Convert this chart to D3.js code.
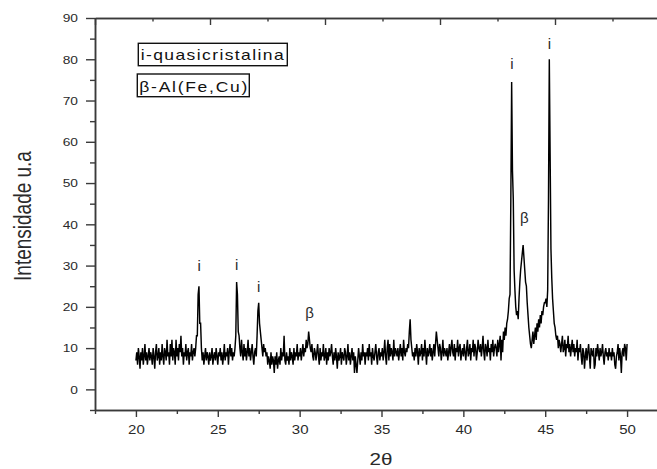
<!DOCTYPE html>
<html><head><meta charset="utf-8">
<script src="https://cdn.jsdelivr.net/npm/d3@7/dist/d3.min.js"></script>
<style>body{margin:0;background:#fff}svg{display:block;font-family:"Liberation Sans",Arial,sans-serif}</style>
</head><body><svg id="c" width="657" height="469"></svg>
<script>
// scan grid: 2θ from 20° in 0.05° steps
const scanStart = 20, scanStep = 0.05;
// intensity (u.a), 20 values per degree
const int20 = [
7,9,6,10,8,5,9,7,10,6,8,11,7,9,6,8,10,7,9,8,
6,10,8,5,9,11,7,8,10,6,9,7,11,8,6,10,9,7,12,8,
9,6,11,8,12,7,10,9,6,12,8,10,7,11,9,13,8,10,6,9,
8,11,7,9,10,6,9,8,11,7,9,10,8,10,13,13,23,25,16,16,
10,7,9,6,8,10,7,9,8,6,9,7,8,10,6,8,9,7,10,8];
const int25 = [
6,9,8,10,7,9,6,8,11,7,9,8,10,6,9,11,8,10,7,9,
8,10,13,26,23,14,13,10,8,12,9,7,11,8,10,7,9,12,8,10,
7,9,11,8,6,9,10,8,13,19,21,16,14,12,10,8,11,9,10,8,
9,6,8,7,5,9,6,8,7,4,8,6,9,5,7,8,6,10,7,9,
8,13,7,6,9,7,8,6,10,7,9,8,6,10,7,9,8,11,7,9];
const int30 = [
8,10,7,9,11,8,10,9,12,10,11,14,12,10,9,11,8,7,10,9,
7,9,11,8,6,10,7,9,8,11,7,8,10,6,9,7,10,8,9,11,
8,6,9,7,10,8,5,9,7,8,10,6,9,8,7,10,9,6,8,11,
7,9,6,8,10,7,9,4,8,6,4,7,10,8,6,9,7,11,8,9,
6,9,8,10,7,11,8,9,6,10,8,7,9,11,8,6,9,10,7,9];
const int35 = [
8,10,7,9,12,8,6,10,12,7,11,8,10,9,7,12,8,10,9,8,
10,7,9,11,8,10,7,12,9,8,10,9,11,10,14,17,12,10,8,9,
7,10,8,11,9,6,10,8,9,11,7,10,8,12,9,6,10,8,9,11,
8,10,7,9,11,8,11,14,12,10,8,11,10,7,9,12,8,10,9,8,
10,7,9,11,8,10,12,9,8,11,7,10,9,12,8,10,11,7,9,10];
const int40 = [
8,11,9,7,10,12,8,9,11,7,10,9,12,8,11,10,7,9,12,10,
9,11,8,10,13,9,7,11,10,8,12,9,10,7,11,9,12,8,10,11,
10,8,12,9,11,13,7,12,9,14,12,15,13,16,17,19,22,23,46,74.5,
53,46,29,24,20,18,19,17,22,26,29,31,33,35,32,29,26,25,21,18,
15,13,11,10,12,14,11,13,15,12,16,14,17,15,18,16,19,18,20,21];
const int45 = [
21,22,20,24,46,80,57,34,27,22,19,16,15,13,12,13,10,12,11,9,
11,13,9,10,12,8,11,10,13,9,11,8,10,12,9,11,8,10,9,12,
7,10,9,11,8,6,10,9,5,8,10,7,9,11,8,5,10,9,8,10,
5,6,10,8,11,9,7,10,8,9,11,8,6,9,10,8,9,7,10,8,
9,7,10,8,9,6,5,8,9,11,7,10,8,4,9,10,8,11,10,7];
const int50 = [11];

const xMajorTicks = [20,25,30,35,40,45,50];
const xMinorTicks = [17.5,22.5,27.5,32.5,37.5,42.5,47.5,52.5];
const yMajorTicks = [0,10,20,30,40,50,60,70,80,90];
const yMinorTicks = [-5,5,15,25,35,45,55,65,75,85];
const topMajorTicks = [0,1,2,3,4,5];
const topMinorTicks = [0.5,1.5,2.5,3.5,4.5];
const legendLabels = ["i-quasicristalina","β-Al(Fe,Cu)"];
const peakLabelText = ["i","i","i","β","i","β","i"];
const peakLabelX = [23.87,26.15,27.5,30.6,42.97,43.72,45.25];
const peakLabelY = [28.7,28.9,23.7,17.3,77.7,40.3,82.5];
const xTitle = "2θ", yTitle = "Intensidade u.a";

const svg = d3.select("#c");
const x = d3.scaleLinear().domain([17.5,52.5]).range([95,668]);
const y = d3.scaleLinear().domain([-5,90]).range([410,18]);
const xTop = d3.scaleLinear().domain([0,5]).range([95,670]);

const intensity = [].concat(int20,int25,int30,int35,int40,int45,int50);
const pts = intensity.map((v,i)=>[scanStart+i*scanStep, v]);

const axisColor = "#3a3a3a";
function styleAxis(g){
  g.selectAll(".domain").attr("stroke",axisColor).attr("stroke-width",1.5);
  g.selectAll(".tick line").attr("stroke",axisColor).attr("stroke-width",1.4);
}

// minor ticks
svg.append("g").attr("transform","translate(95,0)")
  .call(d3.axisLeft(y).tickValues(yMinorTicks).tickSize(5).tickSizeOuter(0).tickFormat(""))
  .call(styleAxis);
svg.append("g").attr("transform","translate(0,410)")
  .call(d3.axisBottom(x).tickValues(xMinorTicks).tickSize(4).tickSizeOuter(0).tickFormat(""))
  .call(styleAxis);
svg.append("g").attr("transform","translate(0,18)")
  .call(d3.axisTop(xTop).tickValues(topMinorTicks).tickSize(-3.5).tickSizeOuter(0).tickFormat(""))
  .call(styleAxis);

// major ticks
const gl = svg.append("g").attr("transform","translate(95,0)")
  .call(d3.axisLeft(y).tickValues(yMajorTicks).tickSize(9).tickSizeOuter(0))
  .call(styleAxis);
gl.selectAll(".tick text").attr("x",-13.6).attr("dy","0.34em")
  .attr("transform","scale(1.25,1)").attr("fill","#2a2a2a")
  .style("font-size","11px").style("font-family","'Liberation Sans',Arial,sans-serif");

const gb = svg.append("g").attr("transform","translate(0,410)")
  .call(d3.axisBottom(x).tickValues(xMajorTicks).tickSize(7).tickSizeOuter(0))
  .call(styleAxis);
gb.selectAll(".tick text").attr("y",24).attr("dy",0)
  .attr("transform","scale(1.25,1)").attr("fill","#2a2a2a")
  .style("font-size","12px").style("font-family","'Liberation Sans',Arial,sans-serif");

svg.append("g").attr("transform","translate(0,18)")
  .call(d3.axisTop(xTop).tickValues(topMajorTicks).tickSize(-7).tickSizeOuter(0).tickFormat(""))
  .call(styleAxis);

// data line
svg.append("path").datum(pts)
  .attr("fill","none").attr("stroke","#000").attr("stroke-width",1.45)
  .attr("stroke-linejoin","miter").attr("stroke-miterlimit",2)
  .attr("d", d3.line().x(d=>x(d[0])).y(d=>y(d[1])));

// peak labels
peakLabelText.forEach((t,i)=>{
  svg.append("text").attr("x",x(peakLabelX[i])).attr("y",y(peakLabelY[i]))
    .attr("text-anchor","middle").attr("fill","#2a2a2a").style("font-size","15px").text(t);
});

// legend boxes
const boxes = [
  {x:138.3,y:43.3,w:149,h:22.4,tx:140.7,ty:59.5,len:114.4},
  {x:137.3,y:74,w:112,h:22.7,tx:139.3,ty:91.5,len:86.4}
];
legendLabels.forEach((t,i)=>{
  const b = boxes[i];
  svg.append("rect").attr("x",b.x).attr("y",b.y).attr("width",b.w).attr("height",b.h)
    .attr("fill","none").attr("stroke","#111").attr("stroke-width",1.4);
  svg.append("text").attr("transform",`translate(${b.tx},${b.ty}) scale(1.25,1)`)
    .attr("fill","#111").style("font-size","14px")
    .attr("textLength",b.len).attr("lengthAdjust","spacing").text(t);
});

// axis titles
svg.append("text").attr("transform","translate(381,465) scale(1.25,1)")
  .attr("text-anchor","middle").attr("fill","#2a2a2a").style("font-size","16.5px").text(xTitle);
svg.append("text").attr("transform","translate(31,216) rotate(-90) scale(1,1.3)")
  .attr("text-anchor","middle").attr("fill","#2a2a2a").style("font-size","19px").text(yTitle);
</script></body></html>
